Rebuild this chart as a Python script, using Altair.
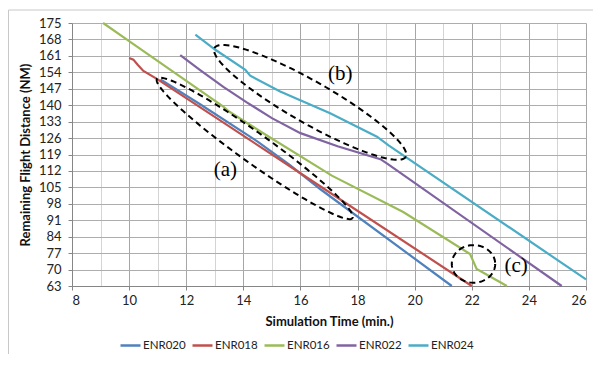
import altair as alt
import pandas as pd
import numpy as np

# ---------------- data ----------------
series_names = ["ENR020", "ENR018", "ENR016", "ENR022", "ENR024"]
series_colors = ["#4F81BD", "#C0504D", "#9BBB59", "#8064A2", "#4BACC6"]

enr020_t = [11.1, 12.5, 14.5, 15.6, 16.7, 21.3]
enr020_d = [151.0, 140.3, 124.5, 114.8, 104.2, 63.0]

enr018_t = [10.0, 10.15, 10.3, 10.5, 11.0, 16.0, 22.0]
enr018_d = [160.1, 159.4, 157.2, 154.6, 151.0, 111.0, 63.0]

enr016_t = [9.09, 10.0, 13.3, 13.5, 14.6, 17.1, 19.6, 21.94, 22.17, 23.23]
enr016_d = [175.0, 167.3, 139.4, 137.3, 128.8, 110.0, 94.5, 76.6, 70.3, 63.0]

enr022_t = [11.79, 12.5, 13.3, 14.12, 15.0, 16.0, 17.3, 18.8, 19.05, 25.15]
enr022_d = [161.3, 154.8, 147.8, 141.2, 134.5, 128.1, 122.5, 117.0, 115.0, 63.0]

enr024_t = [12.32, 13.02, 14.07, 14.24, 15.29, 17.04, 18.68, 19.1, 26.0]
enr024_d = [170.0, 163.6, 155.1, 152.6, 145.8, 136.6, 126.6, 122.8, 65.8]

x_ticks = list(range(8, 27))
y_ticks = [63, 70, 77, 84, 91, 98, 105, 112, 119, 126, 133, 140, 147, 154, 161, 168, 175]

# annotation ellipses: centre (data units), semi-axes (px), tilt (deg, clockwise)
ell_names = ["a", "b", "c"]
ell_cx = [14.40, 16.34, 22.06]
ell_cy = [121.6, 141.2, 72.4]
ell_rx = [120.0, 110.0, 21.7]
ell_ry = [15.0, 21.0, 18.8]
ell_rot = [35.5, 29.7, 0.0]

label_text = ["(a)", "(b)", "(c)"]
label_x = [13.37, 17.39, 23.55]
label_y = [112.4, 153.4, 71.5]

# ---------------- layout ----------------
W, H = 514, 263
XMIN, XMAX = 8, 26
YMIN, YMAX = 63, 175
px_x = W / (XMAX - XMIN)
px_y = H / (YMAX - YMIN)

rows = []
for name, ts, ds in zip(series_names,
                        [enr020_t, enr018_t, enr016_t, enr022_t, enr024_t],
                        [enr020_d, enr018_d, enr016_d, enr022_d, enr024_d]):
    for i, (t, d) in enumerate(zip(ts, ds)):
        rows.append({"series": name, "t": t, "d": d, "i": i})
df = pd.DataFrame(rows)

erows = []
for n, cx, cy, rx, ry, rot in zip(ell_names, ell_cx, ell_cy, ell_rx, ell_ry, ell_rot):
    a = np.radians(rot)
    for k, th in enumerate(np.linspace(0, 2 * np.pi, 121)):
        ex = rx * np.cos(th)
        ey = ry * np.sin(th)
        dx = ex * np.cos(a) - ey * np.sin(a)
        dy = ex * np.sin(a) + ey * np.cos(a)  # screen y downward
        erows.append({"e": n, "k": k, "t": cx + dx / px_x, "d": cy - dy / px_y})
edf = pd.DataFrame(erows)

ldf = pd.DataFrame({"txt": label_text, "t": label_x, "d": label_y})

FONT = "Lato"

xscale = alt.Scale(domain=[XMIN, XMAX], nice=False, zero=False)
yscale = alt.Scale(domain=[YMIN, YMAX], nice=False, zero=False)
cscale = alt.Scale(domain=series_names, range=series_colors)

xaxis = alt.Axis(
    values=x_ticks,
    title="Simulation Time (min.)",
    labelExpr="datum.value % 2 === 0 ? datum.label : ''",
    gridColor={"condition": {"test": "datum.value % 2 === 0", "value": "#A6A6A6"}, "value": "#D4D4D4"},
    tickColor={"condition": {"test": "datum.value % 2 === 0", "value": "#868686"}, "value": "transparent"},
    tickSize=4,
    labelPadding=4,
    titlePadding=8,
    labelOverlap=False,
)
yaxis = alt.Axis(
    values=y_ticks,
    title="Remaining Flight Distance (NM)",
    gridColor="#ADADAD",
    tickColor="#868686",
    tickSize=4,
    labelPadding=7,
    titlePadding=6,
    labelOverlap=False,
)

legend = alt.Legend(
    title=None,
    orient="none",
    legendX=52,
    legendY=316,
    direction="horizontal",
    columns=5,
    symbolType="M-2,0H2",
    symbolSize=100,
    symbolStrokeWidth=2.5,
    labelFont=FONT,
    labelFontSize=11.5,
    labelColor="#222222",
    labelOffset=6,
    columnPadding=1,
)

X = alt.X("t:Q", scale=xscale, axis=xaxis)
Y = alt.Y("d:Q", scale=yscale, axis=yaxis)

frame = alt.Chart(pd.DataFrame({"z": [0]})).mark_rect(
    fill=None, stroke="#C8C8C8", strokeWidth=1
).encode(
    x=alt.value(-63.5), x2=alt.value(540), y=alt.value(-13), y2=alt.value(400)
)

layers = [frame]
for name in series_names:
    layers.append(
        alt.Chart(df).transform_filter(alt.datum.series == name)
        .mark_line(strokeWidth=2.2).encode(
            x=X, y=Y,
            color=alt.Color("series:N", scale=cscale, sort=series_names, legend=legend),
            order=alt.Order("i:Q"),
        )
    )

ellipses = alt.Chart(edf).mark_line(
    color="black", strokeWidth=2, strokeDash=[6, 4]
).encode(
    x=X, y=Y,
    detail="e:N",
    order=alt.Order("k:Q"),
)

labels = alt.Chart(ldf).mark_text(
    font="Liberation Serif", fontSize=21, color="black"
).encode(
    x=X, y=Y,
    text="txt:N",
)

layers += [ellipses, labels]

chart = alt.layer(*layers).properties(
    width=W, height=H,
    autosize=alt.AutoSizeParams(type="none"),
    padding={"left": 64, "top": 15, "right": 7, "bottom": 68},
).configure_view(stroke=None).configure_axis(
    labelFont=FONT, labelFontSize=13, labelColor="#222222",
    titleFont=FONT, titleFontSize=13, titleFontWeight="bold", titleColor="#111111",
    domainColor="#868686", gridWidth=1,
)

chart.save("out.html", embed_options={"renderer": "svg", "actions": False})
